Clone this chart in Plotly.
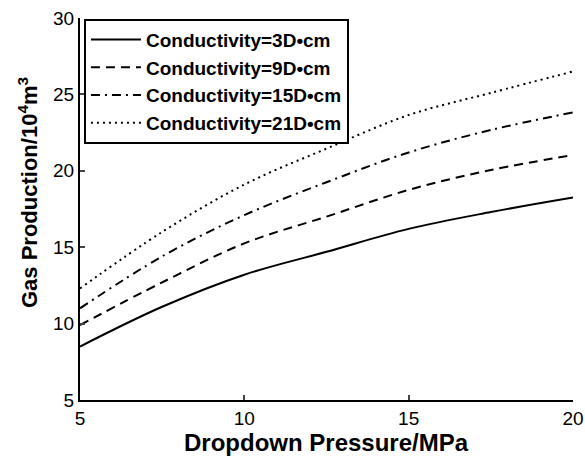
import plotly.graph_objects as go

pressure = [5, 7.5, 10, 12.5, 15, 17.5, 20]
gas_3 = [8.5, 11.1, 13.2, 14.7, 16.2, 17.3, 18.25]
gas_9 = [9.9, 12.7, 15.25, 17.0, 18.75, 20.05, 21.03]
gas_15 = [11.0, 14.4, 17.1, 19.25, 21.2, 22.67, 23.82]
gas_21 = [12.3, 16.0, 19.1, 21.45, 23.65, 25.1, 26.5]
names = ["Conductivity=3D•cm", "Conductivity=9D•cm", "Conductivity=15D•cm", "Conductivity=21D•cm"]
dashes = ["solid", "9px,6px", "9px,5px,2px,5px", "2px,4px"]

FONT = "Liberation Sans, Arial, sans-serif"
fig = go.Figure()
for y, n, d in zip([gas_3, gas_9, gas_15, gas_21], names, dashes):
    fig.add_trace(go.Scatter(x=pressure, y=y, name=n, mode="lines",
                             line=dict(color="black", width=2, dash=d, shape="spline")))

fig.update_layout(
    width=585, height=456,
    margin=dict(l=80, r=12, t=18, b=56, autoexpand=False),
    paper_bgcolor="white", plot_bgcolor="white",
    font=dict(family=FONT, color="black", size=19),
    showlegend=True,
    legend=dict(x=0.008, y=0.998, xanchor="left", yanchor="top",
                bgcolor="white", bordercolor="black", borderwidth=2,
                font=dict(size=19, family=FONT, weight="bold"),
                tracegroupgap=0, itemwidth=50),
    xaxis=dict(range=[5, 20], tickvals=[5, 10, 15, 20], ticks="inside", ticklen=5,
               tickwidth=2, showline=True, linewidth=2, linecolor="black", automargin=False,
               showgrid=False, zeroline=False, tickfont=dict(size=19)),
    yaxis=dict(range=[5, 30], tickvals=[5, 10, 15, 20, 25, 30], ticks="inside", ticklen=5,
               tickwidth=2, showline=True, linewidth=2, linecolor="black", automargin=False,
               showgrid=False, zeroline=False, tickfont=dict(size=19)),
    annotations=[
        dict(text="Gas Production/10<sup>4</sup>m<sup>3</sup>", textangle=-90,
             xref="paper", yref="paper", x=(28 - 80) / 493, y=1 - (193 - 18) / 382,
             xanchor="center", yanchor="middle", showarrow=False,
             font=dict(size=22, weight="bold", family=FONT)),
        dict(text="Dropdown Pressure/MPa",
             xref="paper", yref="paper", x=0.5, y=-(443 - 400) / 382,
             xanchor="center", yanchor="middle", showarrow=False,
             font=dict(size=24, weight="bold", family=FONT)),
    ],
)
fig.write_html("out.html")
